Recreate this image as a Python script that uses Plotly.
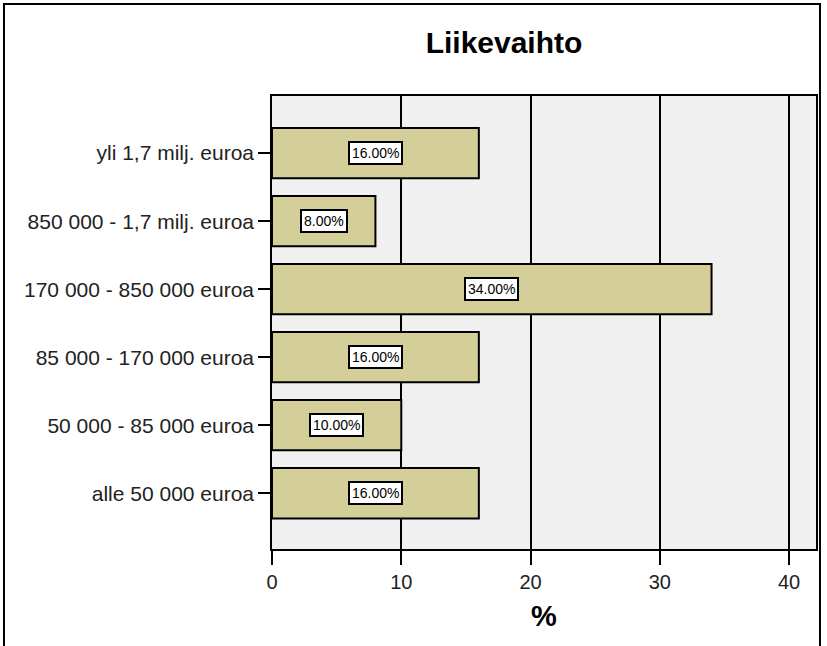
import plotly.graph_objects as go

categories = ["alle 50 000 euroa", "50 000 - 85 000 euroa", "85 000 - 170 000 euroa",
              "170 000 - 850 000 euroa", "850 000 - 1,7 milj. euroa", "yli 1,7 milj. euroa"]
values = [16.0, 10.0, 16.0, 34.0, 8.0, 16.0]
labels = ["16.00%", "10.00%", "16.00%", "34.00%", "8.00%", "16.00%"]
x_ticks = [0, 10, 20, 30, 40]

fig = go.Figure()
fig.add_trace(go.Bar(
    y=list(range(len(categories))), x=values, orientation="h",
    width=0.74,
    marker=dict(color="#D4CE98", line=dict(color="black", width=2)),
    hoverinfo="skip",
))

for i, (v, t) in enumerate(zip(values, labels)):
    fig.add_annotation(x=v / 2, y=i, text=t, showarrow=False,
                       font=dict(family="Liberation Sans, Arial", size=14, color="black"),
                       bgcolor="white", bordercolor="black", borderwidth=2, borderpad=2)

fig.update_layout(
    width=827, height=646,
    margin=dict(l=272, r=9, t=96, b=97),
    paper_bgcolor="white", plot_bgcolor="#F0F0F0",
    showlegend=False,
    title=dict(text="<b>Liikevaihto</b>", x=504 / 827, xanchor="center", y=1 - 42 / 646, yanchor="middle",
               font=dict(family="Liberation Sans, Arial", size=30, color="black")),
    font=dict(family="Liberation Sans, Arial", size=21, color="#222"),
)
fig.update_xaxes(
    range=[0, 42.08], tickvals=x_ticks, ticktext=[str(t) for t in x_ticks],
    showgrid=True, gridcolor="black", gridwidth=2,
    zeroline=False, showline=True, linecolor="black", linewidth=1.5, mirror=True,
    ticks="outside", ticklen=14, tickwidth=2, tickcolor="black",
    tickfont=dict(size=20, color="#222"),
    title=dict(text="<b>%</b>", font=dict(size=29, color="black"), standoff=14),
    layer="below traces",
)
fig.update_yaxes(
    range=[-0.82, 5.84], tickvals=list(range(len(categories))), ticktext=categories,
    showgrid=False, zeroline=False, showline=True, linecolor="black", linewidth=1.5, mirror=True,
    ticks="outside", ticklen=12, tickwidth=1.5, tickcolor="black",
    tickfont=dict(size=21, color="#222"),
)

fig.add_shape(type="rect", xref="paper", yref="paper",
              x0=-269 / 546, x1=(822 - 272) / 546, y0=-100 / 453, y1=(549 - 4) / 453,
              line=dict(color="black", width=2), fillcolor="rgba(0,0,0,0)", layer="above")

fig.write_html("out.html")
